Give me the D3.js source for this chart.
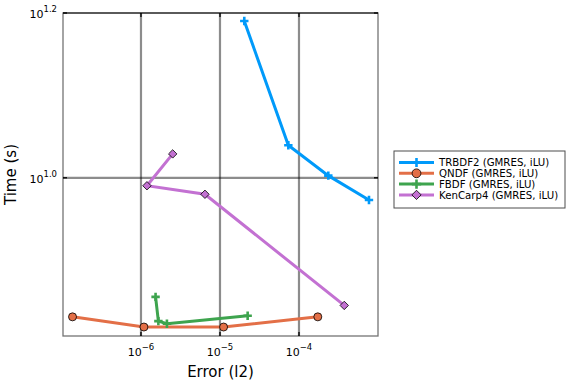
<!DOCTYPE html>
<html><head><meta charset="utf-8">
<script src="https://cdn.jsdelivr.net/npm/d3@7"></script>
<style>body{margin:0;background:#fff}svg{display:block}text{font-family:"DejaVu Sans",sans-serif}</style>
</head><body><svg id="c" width="576" height="384"></svg>
<script>
const seriesNames = ["TRBDF2 (GMRES, iLU)","QNDF (GMRES, iLU)","FBDF (GMRES, iLU)","KenCarp4 (GMRES, iLU)"];
const colors = ["#009AFA","#E36F47","#3EA44E","#C371D2"];
const markers = ["cross","circle","cross","diamond"];
const trbdf2Err = [2.03e-5, 7.33e-5, 2.35e-4, 7.69e-4];
const trbdf2Time = [15.5, 10.95, 10.06, 9.40];
const qndfErr = [1.36e-7, 1.09e-6, 1.11e-5, 1.73e-4];
const qndfTime = [6.78, 6.59, 6.59, 6.78];
const fbdfErr = [1.53e-6, 1.66e-6, 2.13e-6, 2.24e-5];
const fbdfTime = [7.17, 6.70, 6.65, 6.80];
const kencarpErr = [2.52e-6, 1.19e-6, 6.45e-6, 3.74e-4];
const kencarpTime = [10.69, 9.78, 9.55, 7.00];
const xTicks = [1e-6, 1e-5, 1e-4];
const xTickExp = ["−6","−5","−4"];
const yTicks = [Math.pow(10,1.0), Math.pow(10,1.2)];
const yTickExp = ["1.0","1.2"];

const errs=[trbdf2Err,qndfErr,fbdfErr,kencarpErr];
const times=[trbdf2Time,qndfTime,fbdfTime,kencarpTime];

const L=63,R=378,T=13,B=336;
const svg=d3.select("#c");
const x=d3.scaleLog().domain([Math.pow(10,-6.987),Math.pow(10,-3.0)]).range([L,R]);
const y=d3.scaleLog().domain([Math.pow(10,0.808),Math.pow(10,1.2)]).range([B,T]);

// grid
const g=svg.append("g");
xTicks.forEach(t=>g.append("line").attr("x1",x(t)).attr("x2",x(t)).attr("y1",T).attr("y2",B).attr("stroke","#000").attr("stroke-opacity",0.45).attr("stroke-width",2.2));
yTicks.forEach(t=>g.append("line").attr("y1",y(t)).attr("y2",y(t)).attr("x1",L).attr("x2",R).attr("stroke","#000").attr("stroke-opacity",0.45).attr("stroke-width",2.2));
// frame
svg.append("rect").attr("x",L).attr("y",T).attr("width",R-L).attr("height",B-T).attr("fill","none").attr("stroke","#000").attr("stroke-opacity",0.55).attr("stroke-width",1.3);
// ticks
xTicks.forEach(t=>{svg.append("line").attr("x1",x(t)).attr("x2",x(t)).attr("y1",B).attr("y2",B-4).attr("stroke","#000").attr("stroke-width",1.3);
 svg.append("line").attr("x1",x(t)).attr("x2",x(t)).attr("y1",T).attr("y2",T+4).attr("stroke","#000").attr("stroke-width",1.3);});
yTicks.forEach(t=>{svg.append("line").attr("y1",y(t)).attr("y2",y(t)).attr("x1",L).attr("x2",L+4).attr("stroke","#000").attr("stroke-width",1.3);
 svg.append("line").attr("y1",y(t)).attr("y2",y(t)).attr("x1",R).attr("x2",R-4).attr("stroke","#000").attr("stroke-width",1.3);});
// tick labels
xTicks.forEach((t,i)=>{const tx=svg.append("text").attr("x",x(t)).attr("y",B+20).attr("text-anchor","middle").attr("font-size",11).attr("fill","#000");
 tx.append("tspan").text("10");tx.append("tspan").attr("dy",-6).attr("font-size",8.5).text(xTickExp[i]);});
yTicks.forEach((t,i)=>{const tx=svg.append("text").attr("x",L-6).attr("y",y(t)+5).attr("text-anchor","end").attr("font-size",11).attr("fill","#000");
 tx.append("tspan").text("10");tx.append("tspan").attr("dy",-6).attr("font-size",8.5).text(yTickExp[i]);});
// axis titles
svg.append("text").attr("x",(L+R)/2).attr("y",377).attr("text-anchor","middle").attr("font-size",15).text("Error (l2)");
svg.append("text").attr("transform","translate(16,"+((T+B)/2)+") rotate(-90)").attr("text-anchor","middle").attr("font-size",15).text("Time (s)");

function drawMarker(sel,type,cx,cy,col,scale){
  scale=scale||1;
  if(type==="circle") sel.append("circle").attr("cx",cx).attr("cy",cy).attr("r",4*scale).attr("fill",col).attr("stroke","#000").attr("stroke-width",0.8);
  else if(type==="diamond"){const s=4.2*scale;sel.append("path").attr("d",`M${cx},${cy-s}L${cx+s},${cy}L${cx},${cy+s}L${cx-s},${cy}Z`).attr("fill",col).attr("stroke","#000").attr("stroke-width",0.8);}
  else {const s=4.2*scale;sel.append("path").attr("d",`M${cx-s},${cy}H${cx+s}M${cx},${cy-s}V${cy+s}`).attr("stroke",col).attr("stroke-width",2.6).attr("fill","none");}
}
const line=d3.line().x(d=>x(d[0])).y(d=>y(d[1]));
const clip=svg.append("g");
errs.forEach((e,i)=>{
  const pts=e.map((v,j)=>[v,times[i][j]]);
  clip.append("path").attr("d",line(pts)).attr("fill","none").attr("stroke",colors[i]).attr("stroke-width",3);
  pts.forEach(p=>drawMarker(clip,markers[i],x(p[0]),y(p[1]),colors[i]));
});
// legend
const lg=svg.append("g");
lg.append("rect").attr("x",394).attr("y",151).attr("width",171).attr("height",57).attr("fill","#fff").attr("stroke","#000").attr("stroke-opacity",0.7).attr("stroke-width",1);
seriesNames.forEach((n,i)=>{const yy=162.5+i*10.8;
  lg.append("line").attr("x1",399).attr("x2",434).attr("y1",yy).attr("y2",yy).attr("stroke",colors[i]).attr("stroke-width",3);
  drawMarker(lg,markers[i],416.5,yy,colors[i],1.1);
  lg.append("text").attr("x",439).attr("y",yy+3.7).attr("font-size",10.2).text(n);
});
</script></body></html>
